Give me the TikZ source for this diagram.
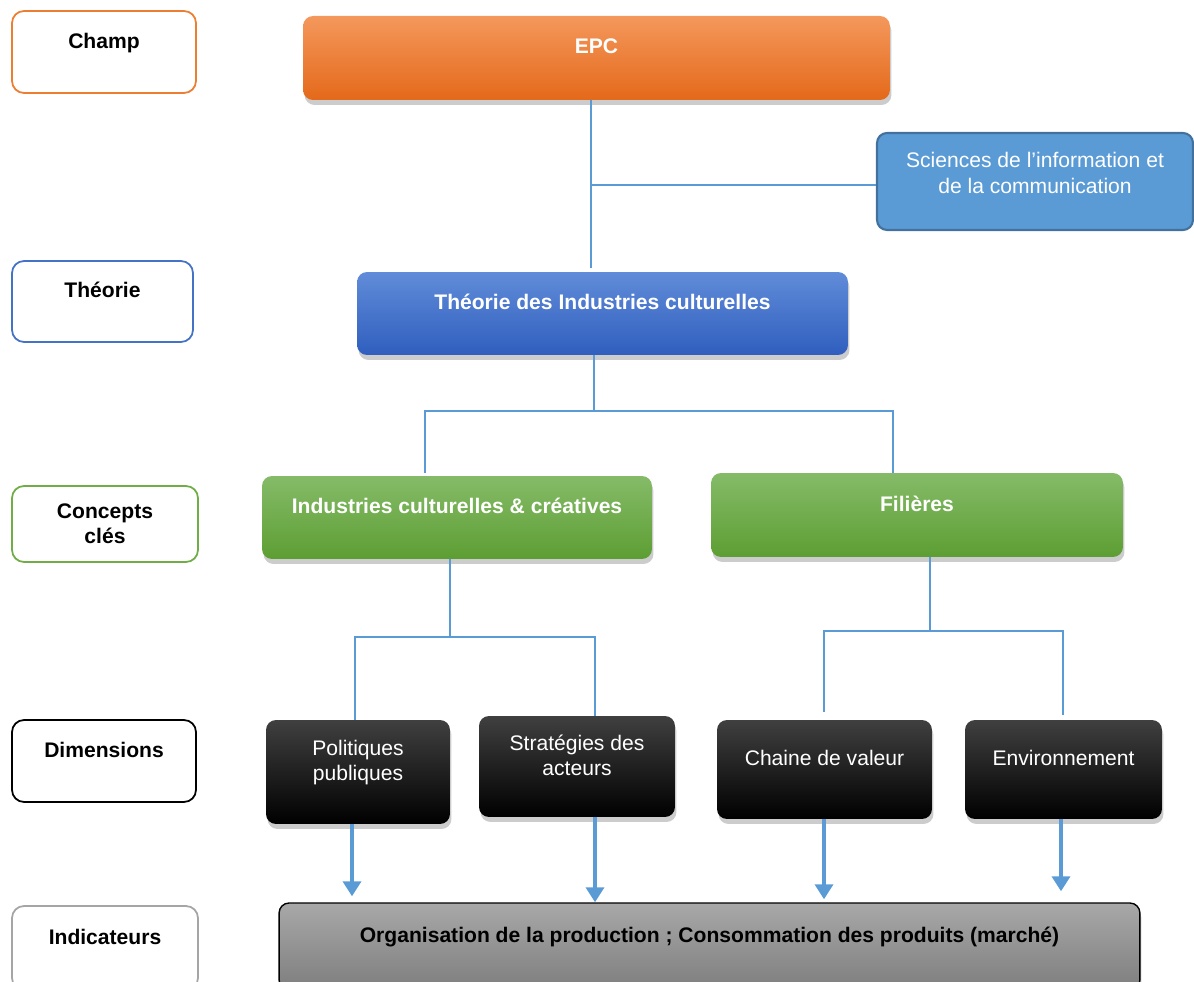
\documentclass[tikz,border=0pt]{standalone}
\usepackage{fontspec}
\setmainfont{Liberation Sans}
\usepackage{tikz}
\usetikzlibrary{calc}
\usetikzlibrary{arrows.meta, positioning, shapes, shadows}

\definecolor{linkblue}{HTML}{5B9BD5}
\definecolor{epcorange}{HTML}{ED7D31}
\definecolor{epctop}{HTML}{F4985C}
\definecolor{epcbot}{HTML}{E4691A}
\definecolor{sicfill}{HTML}{5B9BD5}
\definecolor{sicdraw}{HTML}{41719C}
\definecolor{ticblue}{HTML}{4472C4}
\definecolor{tictop}{HTML}{618CD9}
\definecolor{ticbot}{HTML}{2F5EBE}
\definecolor{icgreen}{HTML}{70AD47}
\definecolor{ictop}{HTML}{85BB68}
\definecolor{icbot}{HTML}{5D9E33}
\definecolor{indgray}{HTML}{A5A5A5}
\definecolor{indtop}{HTML}{A8A8A8}
\definecolor{indbot}{HTML}{7E7E7E}

\begin{document}
\begin{tikzpicture}[x=0.02cm, y=-0.02cm]

	% Define block styles
	\tikzstyle{level} = [rectangle, draw, fill=white, line width=1pt,
	rounded corners=0.24cm, font=\fontsize{12}{14.5}\selectfont\bfseries,
	align=center, text depth=0.46cm]
	\tikzstyle{flatblock} = [rectangle, rounded corners=0.2cm, align=center,
	text=white, font=\fontsize{12}{14.5}\selectfont, text depth=0.46cm]
	\tikzstyle{block} = [flatblock,
	drop shadow={opacity=0.4, shadow xshift=0.03cm, shadow yshift=-0.1cm}]
	\tikzstyle{dimbox} = [block, top color=black!75, middle color=black,
	bottom color=black]
	\tikzstyle{link} = [draw, color=linkblue, line width=0.6pt]
	\tikzstyle{arrow} = [draw, color=linkblue, line width=2pt,
	-{Triangle[width=0.36cm, length=0.3cm]}]

	\useasboundingbox (0,0) rectangle (1194,982);

	% Level labels
	\node [level, draw=epcorange, minimum width=3.68cm, minimum height=1.64cm] (champ) at (104,52) {Champ};
	\node [level, draw=ticblue, minimum width=3.62cm, minimum height=1.62cm] (theorie) at (102.5,301.5) {Théorie};
	\node [level, draw=icgreen, minimum width=3.72cm, minimum height=1.52cm, text depth={}] (concepts) at (105,524) {Concepts\\clés};
	\node [level, draw=black, minimum width=3.68cm, minimum height=1.64cm] (dimensions) at (104,761) {Dimensions};
	\node [level, draw=indgray, minimum width=3.72cm, minimum height=1.68cm] (indicateurs) at (105,948) {Indicateurs};

	% Nodes
	\node [block, top color=epctop, bottom color=epcbot, minimum width=11.74cm, minimum height=1.68cm, font=\fontsize{12}{14.5}\selectfont\bfseries] (epc) at (596.5,58) {EPC};
	\node [flatblock, fill=sicfill, draw=sicdraw, line width=1.2pt, minimum width=6.32cm, minimum height=1.94cm, text depth=0.34cm] (sic) at (1035,181.5) {Sciences de l’information et\\de la communication};
	\node [block, top color=tictop, bottom color=ticbot, minimum width=9.82cm, minimum height=1.66cm, font=\fontsize{12}{14.5}\selectfont\bfseries] (tic) at (602.5,313.5) {Théorie des Industries culturelles};
	\node [block, top color=ictop, bottom color=icbot, minimum width=7.80cm, minimum height=1.66cm, font=\fontsize{12}{14.5}\selectfont\bfseries] (icc) at (457,517.5) {Industries culturelles \& créatives};
	\node [block, top color=ictop, bottom color=icbot, minimum width=8.24cm, minimum height=1.68cm, font=\fontsize{12}{14.5}\selectfont\bfseries] (filieres) at (917,515) {Filières};
	\node [dimbox, minimum width=3.68cm, minimum height=2.08cm] (politiques) at (358,772) {Politiques\\publiques};
	\node [dimbox, minimum width=3.92cm, minimum height=2.02cm] (strategies) at (577,766.5) {Stratégies des\\acteurs};
	\node [dimbox, minimum width=4.30cm, minimum height=1.98cm] (chaine) at (824.5,769.5) {Chaine de valeur};
	\node [dimbox, minimum width=3.94cm, minimum height=1.98cm] (environnement) at (1063.5,769.5) {Environnement};
	\node [block, top color=indtop, bottom color=indbot, draw=black, line width=0.8pt, text=black, minimum width=17.22cm, minimum height=1.74cm, font=\fontsize{12}{14.5}\selectfont\bfseries] (organisation) at (709.5,946.5) {Organisation de la production ; Consommation des produits (marché)};

	% Junctions
	\coordinate (epcjoin) at (591,185);
	\coordinate (ticjoin) at (594,411);
	\coordinate (iccleft) at (425,411);
	\coordinate (filright) at (893,411);
	\coordinate (iccjoin) at (450,637);
	\coordinate (polleft) at (355,637);
	\coordinate (stratright) at (595,637);
	\coordinate (filjoin) at (930,631);
	\coordinate (chainleft) at (824,631);
	\coordinate (envright) at (1063,631);

	% Paths
	\path [link] (epc.south -| epcjoin) -- ([yshift=0.08cm]tic.north -| epcjoin);
	\path [link] (epcjoin) -- (sic.west |- epcjoin);
	\path [link] (tic.south -| ticjoin) -- (ticjoin);
	\path [link] ([yshift=0.06cm]icc.north -| iccleft) |- (filright) -- (filieres.north -| filright);
	\path [link] (icc.south -| iccjoin) -- (iccjoin);
	\path [link] (politiques.north -| polleft) |- (stratright) -- (strategies.north -| stratright);
	\path [link] (filieres.south -| filjoin) -- (filjoin);
	\path [link] ([yshift=0.16cm]chaine.north -| chainleft) |- (envright) -- ([yshift=0.1cm]environnement.north -| envright);

	% Arrows to the indicators
	\coordinate (polout) at ($(politiques.south)+(-6,0)$);
	\coordinate (stratout) at ($(strategies.south)+(18,0)$);
	\coordinate (chainout) at ($(chaine.south)+(-0.5,0)$);
	\coordinate (envout) at ($(environnement.south)+(-2.5,0)$);
	\path [arrow, shorten >=0.12cm] (polout) -- (polout |- organisation.north);
	\path [arrow] (stratout) -- (stratout |- organisation.north);
	\path [arrow, shorten >=0.06cm] (chainout) -- (chainout |- organisation.north);
	\path [arrow, shorten >=0.22cm] (envout) -- (envout |- organisation.north);
\end{tikzpicture}
\end{document}
